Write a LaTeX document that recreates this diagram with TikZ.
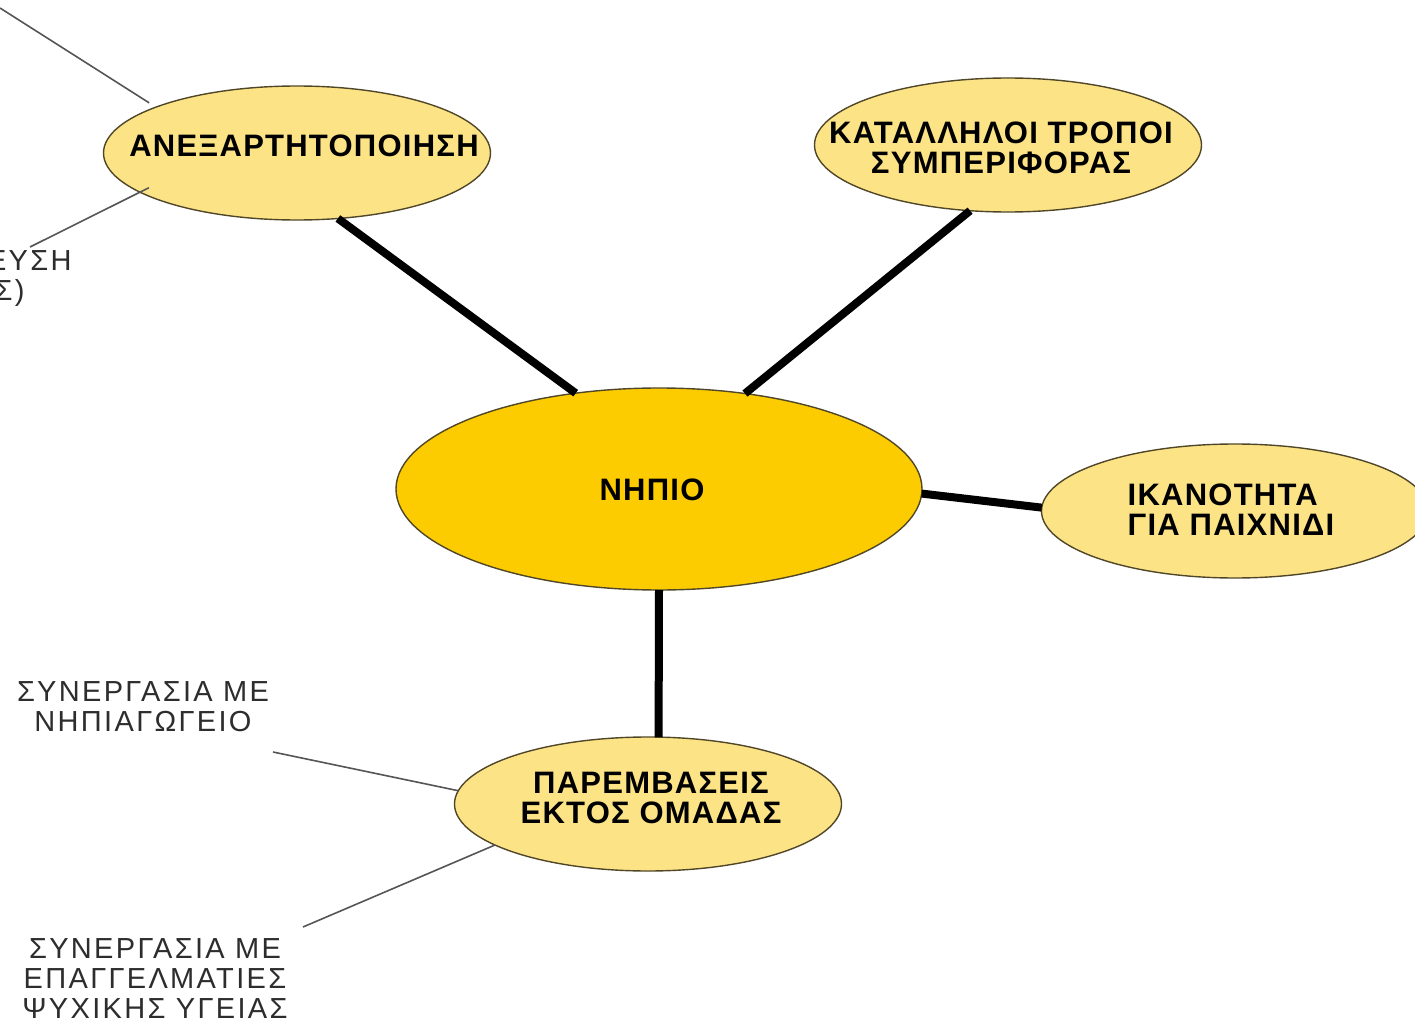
\documentclass[tikz,border=0pt]{standalone}
\usepackage{fontspec}
\setmainfont{Liberation Sans}
\newfontfamily\tagfont[LetterSpace=4]{Liberation Sans}
\newfontfamily\notefont[LetterSpace=8]{Liberation Sans}
\usetikzlibrary{shapes.geometric}

\begin{document}
\begin{tikzpicture}[x=0.5pt,y=0.5pt,yscale=-1,xscale=1,
  bubble/.style={ellipse, draw={rgb, 255:red, 80; green, 70; blue, 40}, line width=0.7pt,
    fill={rgb, 255:red, 252; green, 228; blue, 134}, minimum width=193.5pt, minimum height=67pt,
    inner sep=0pt, outer sep=0pt},
  hub/.style={bubble, fill={rgb, 255:red, 252; green, 204; blue, 0}, minimum width=263pt, minimum height=101pt},
  spoke/.style={line width=4pt, draw=black},
  twig/.style={line width=0.8pt, draw={rgb, 255:red, 85; green, 85; blue, 85}},
  tag/.style={align=center, inner sep=0pt, font=\tagfont\fontsize{15.5}{15}\selectfont\bfseries},
  note/.style={align=center, inner sep=0pt, text={rgb, 255:red, 45; green, 45; blue, 45}, font=\notefont\fontsize{14.5}{15}\selectfont}
]
\useasboundingbox (0,0) rectangle (1415,1022);

%Shape: Ellipse
\node[bubble] (ane) at (297,153) {};
\node[bubble] (kat) at (1008,145) {};
\node[hub] (nhp) at (659,489) {};
\node[bubble] (ika) at (1235,511) {};
\node[bubble] (par) at (648,804) {};

%Straight Lines
\draw[spoke] (ane.-58) -- (nhp.131);
\draw[spoke] (kat.-120) -- (nhp.48);
\draw[spoke] (nhp.-1.3) -- (ika.179);
\draw[spoke] (nhp.south) -- (par.81);

% free ends of the thin lines
\coordinate (ane-up) at (0,8);
\coordinate (ane-dn) at (30,247);
\coordinate (par-up) at (273,752);
\coordinate (par-dn) at (303,927);

%Straight Lines
\draw[twig, shorten >=4pt] (ane-up) -- (ane.162);
\draw[twig, shorten >=-5pt] (ane-dn) -- (ane.194);
\draw[twig] (par-up) -- (par.176);
\draw[twig] (par-dn) -- (par.195);

% Text Node
\node[tag] (ane-t) at (304,146) {ΑΝΕΞΑΡΤΗΤΟΠΟΙΗΣΗ};
% Text Node
\node[tag] (kat-t) at (1001,148) {ΚΑΤΑΛΛΗΛΟΙ ΤΡΟΠΟΙ\\ΣΥΜΠΕΡΙΦΟΡΑΣ};
% Text Node
\node[tag] (nhp-t) at (652,490) {ΝΗΠΙΟ};
% Text Node
\node[tag, align=left] (ika-t) at (1231,510) {ΙΚΑΝΟΤΗΤΑ\\ΓΙΑ ΠΑΙΧΝΙΔΙ};
% Text Node
\node[tag] (par-t) at (651,798) {ΠΑΡΕΜΒΑΣΕΙΣ\\ΕΚΤΟΣ ΟΜΑΔΑΣ};
% Text Node
\node[note] (nhg-t) at (143,707) {ΣΥΝΕΡΓΑΣΙΑ ΜΕ\\ΝΗΠΙΑΓΩΓΕΙΟ};
% Text Node
\node[note, anchor=north] (epg-t) at (155,938) {ΣΥΝΕΡΓΑΣΙΑ ΜΕ\\ΕΠΑΓΓΕΛΜΑΤΙΕΣ\\ΨΥΧΙΚΗΣ ΥΓΕΙΑΣ};
% Text Node
\node[note, align=right, anchor=north east] (gon-t) at (72,250) {ΕΥΣΗ\\Σ)\makebox[23.5pt]{}};

\end{tikzpicture}
\end{document}
